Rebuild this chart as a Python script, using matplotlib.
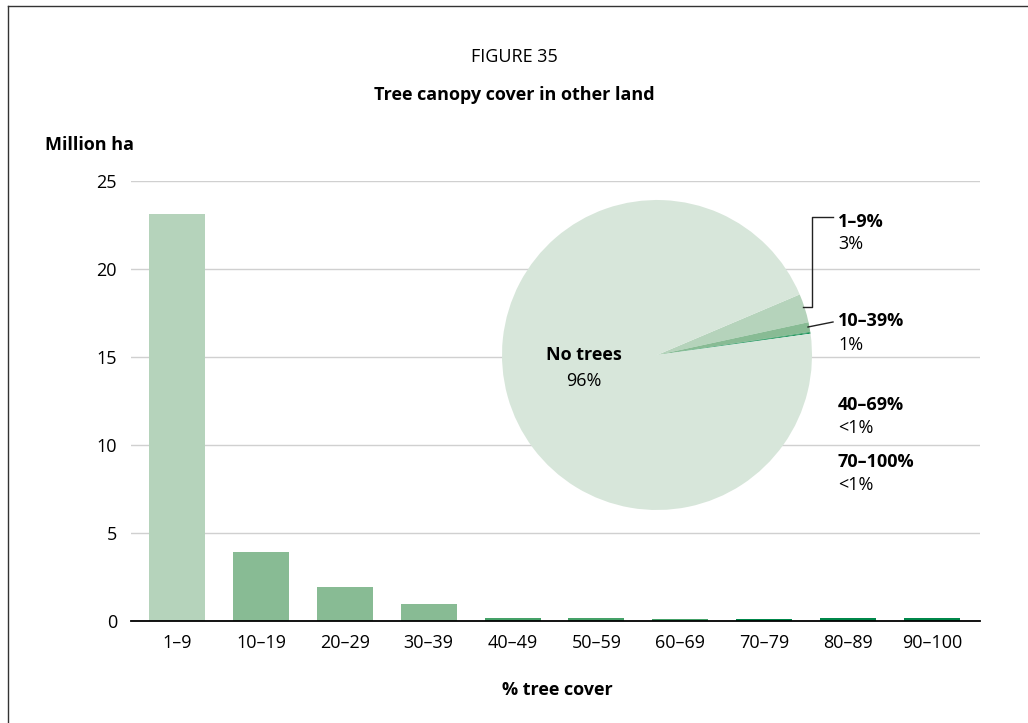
import matplotlib
matplotlib.use("Agg")
import matplotlib.pyplot as plt
from matplotlib.lines import Line2D

plt.rcParams['font.family'] = ['Open Sans', 'DejaVu Sans']

# Area of other land by tree canopy cover class (million ha)
cover_classes = ["1–9", "10–19", "20–29", "30–39", "40–49", "50–59",
                 "60–69", "70–79", "80–89", "90–100"]
area_mha = [23.15, 3.9, 1.93, 0.95, 0.17, 0.17, 0.11, 0.11, 0.17, 0.17]

# Share of other land by canopy group (%)
pie_groups = ["1–9%", "10–39%", "40–69%", "70–100%", "No trees"]
pie_shares = [3, 1, 0.1, 0.1, 96]
pie_share_labels = ["3%", "1%", "<1%", "<1%", "96%"]

yticks = [0, 5, 10, 15, 20, 25]

C_NONE = "#d7e6da"
C_LOW = "#b5d3bb"
C_MID = "#88bb94"
C_HIGH = "#45a168"
C_DENSE = "#00874a"
bar_colors = [C_LOW, C_MID, C_MID, C_MID, C_HIGH, C_HIGH, C_HIGH,
              C_DENSE, C_DENSE, C_DENSE]
pie_colors = [C_LOW, C_MID, C_HIGH, C_DENSE, C_NONE]

W, H = 1028, 723
fig = plt.figure(figsize=(W / 100, H / 100), dpi=100)

def fx(px):
    return px / W

def fy(py):
    return 1 - py / H

# Panel frame (left and top edges)
fig.add_artist(Line2D([fx(7.5), fx(7.5)], [fy(5.5), 0], color="#333333", lw=1.0))
fig.add_artist(Line2D([fx(7.5), 1], [fy(5.5), fy(5.5)], color="#333333", lw=1.0))

FS = 13
fig.text(0.5, fy(57), "FIGURE 35", ha="center", va="center", fontsize=FS)
fig.text(0.5, fy(95), "Tree canopy cover in other land", ha="center",
         va="center", fontsize=FS, fontweight="bold")
fig.text(fx(45), fy(145), "Million ha", ha="left", va="center",
         fontsize=FS, fontweight="bold")
fig.text(fx(557), fy(690), "% tree cover", ha="center", va="center",
         fontsize=FS, fontweight="bold")

# Bar chart
ax = fig.add_axes([fx(131), fy(621), fx(980) - fx(131), fy(181) - fy(621)])
x = list(range(len(cover_classes)))
ax.bar(x, area_mha, width=0.668, color=bar_colors, zorder=2)
ax.set_xlim(-0.55, len(cover_classes) - 0.426)
ax.set_ylim(0, 25)
ax.set_yticks(yticks)
ax.set_yticklabels([str(t) for t in yticks], fontsize=FS)
ax.set_xticks(x)
ax.set_xticklabels(cover_classes, fontsize=FS)
ax.tick_params(axis="both", length=0)
ax.tick_params(axis="y", pad=10)
ax.tick_params(axis="x", pad=9)
ax.grid(axis="y", color="#d0d0d0", lw=1.0, zorder=0)
for s in ["top", "right", "left"]:
    ax.spines[s].set_visible(False)
ax.spines["bottom"].set_color("black")
ax.spines["bottom"].set_linewidth(1.3)
ax.spines["bottom"].set_zorder(3)

# Pie inset
R = 155
pax = fig.add_axes([fx(657 - R), fy(355 + R), fx(2 * R), fy(355 - R) - fy(355 + R)])
pax.pie(pie_shares, colors=pie_colors, startangle=23, counterclock=False,
        wedgeprops=dict(linewidth=0))
pax.set_aspect("equal")
pax.set_xlim(-1, 1)
pax.set_ylim(-1, 1)
pax.axis("off")

# Pie labels
fig.text(fx(584), fy(355), "No trees", ha="center", va="center",
         fontsize=FS, fontweight="bold")
fig.text(fx(584), fy(381), pie_share_labels[4], ha="center", va="center",
         fontsize=FS)

label_pos = [(222, 244), (321, 345), (405, 428), (462, 485)]
for i, (y1, y2) in enumerate(label_pos):
    fig.text(fx(838), fy(y1), pie_groups[i], ha="left", va="center",
             fontsize=FS, fontweight="bold")
    fig.text(fx(838), fy(y2), pie_share_labels[i], ha="left", va="center",
             fontsize=FS)

# Leader lines
fig.add_artist(Line2D([fx(803), fx(812), fx(812), fx(833)],
                      [fy(307), fy(307), fy(217), fy(217)],
                      color="#222222", lw=1.0))
fig.add_artist(Line2D([fx(808), fx(833)], [fy(327), fy(322)],
                      color="#222222", lw=1.0))

fig.savefig("out.png", dpi=100, facecolor="white")
